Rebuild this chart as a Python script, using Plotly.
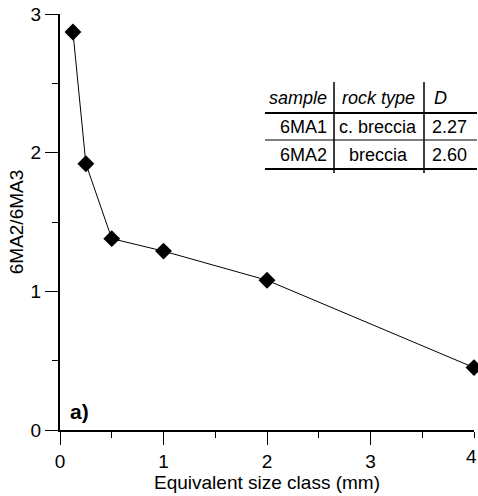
import plotly.graph_objects as go

size_class = [0.125, 0.25, 0.5, 1, 2, 4]
ratio = [2.87, 1.92, 1.38, 1.29, 1.08, 0.45]

x_ticks = [0, 1, 2, 3, 4]
y_ticks = [0, 1, 2, 3]

tbl_header = ["sample", "rock type", "D"]
tbl_samples = ["6MA1", "6MA2"]
tbl_rock = ["c. breccia", "breccia"]
tbl_D = ["2.27", "2.60"]

FONT = "Liberation Sans, Arial, sans-serif"
FS = 18

fig = go.Figure()
fig.add_trace(go.Scatter(
    x=size_class, y=ratio, mode="lines+markers",
    line=dict(color="black", width=1),
    marker=dict(symbol="diamond", size=13, color="black"),
    cliponaxis=False, showlegend=False))

W, H = 478, 496
L, R, T, B = 60, 4, 14, 66
pw, ph = W - L - R, H - T - B

def px(xp):
    return (xp - L) / pw

def py(yp):
    return (H - B - yp) / ph

shapes = []
for xp in (334, 424):
    shapes.append(dict(type="line", xref="paper", yref="paper",
                       x0=px(xp), x1=px(xp), y0=py(82), y1=py(173),
                       line=dict(color="black", width=1.5)))
for yp, w in ((113, 2.2), (140, 1.2), (169, 2.2)):
    shapes.append(dict(type="line", xref="paper", yref="paper",
                       x0=px(265), x1=px(477), y0=py(yp), y1=py(yp),
                       line=dict(color="black", width=w)))

tfont = dict(family=FONT, size=FS, color="black")
afont = dict(family=FONT, size=19, color="black")
ann = []
hdr_x = [(298, "center"), (378, "center"), (432, "left")]
for (xp, al), t in zip(hdr_x, tbl_header):
    ann.append(dict(xref="paper", yref="paper", x=px(xp), y=py(98), text=f"<i>{t}</i>",
                    showarrow=False, xanchor=al, yanchor="middle", font=tfont))
for row_y, s, r, d in zip((127, 155), tbl_samples, tbl_rock, tbl_D):
    ann.append(dict(xref="paper", yref="paper", x=px(329), y=py(row_y), text=s,
                    showarrow=False, xanchor="right", yanchor="middle", font=tfont))
    ann.append(dict(xref="paper", yref="paper", x=px(378), y=py(row_y), text=r,
                    showarrow=False, xanchor="center", yanchor="middle", font=tfont))
    ann.append(dict(xref="paper", yref="paper", x=px(469), y=py(row_y), text=d,
                    showarrow=False, xanchor="right", yanchor="middle", font=tfont))
ann.append(dict(xref="paper", yref="paper", x=px(68), y=py(411), text="<b>a)</b>",
                showarrow=False, xanchor="left", yanchor="middle",
                font=dict(family=FONT, size=21, color="black")))
# last x tick label, which sits at the right edge of the page
ann.append(dict(xref="paper", yref="paper", x=px(W), y=py(456), text=str(x_ticks[-1]),
                showarrow=False, xanchor="right", yanchor="middle", font=afont,
                borderpad=0))

axis_common = dict(showgrid=False, zeroline=False, showline=True, linecolor="black",
                   linewidth=2, ticks="outside", ticklen=13, tickwidth=1, tickcolor="black",
                   tickfont=afont,
                   minor=dict(ticks="outside", ticklen=6, tickwidth=1, tickcolor="black", dtick=0.5))

fig.update_layout(
    width=W, height=H, margin=dict(l=L, r=R, t=T, b=B),
    paper_bgcolor="white", plot_bgcolor="white",
    font=dict(family=FONT, color="black"),
    xaxis=dict(range=[0, 4], tickvals=x_ticks[:-1], ticktext=[str(v) for v in x_ticks[:-1]],
               title=dict(text="Equivalent size class (mm)", standoff=3, font=afont),
               **axis_common),
    yaxis=dict(range=[0, 3], tickvals=y_ticks, ticktext=[str(v) for v in y_ticks],
               title=dict(text="6MA2/6MA3", standoff=2, font=afont),
               **axis_common),
    shapes=shapes, annotations=ann)

fig.write_html("out.html")
